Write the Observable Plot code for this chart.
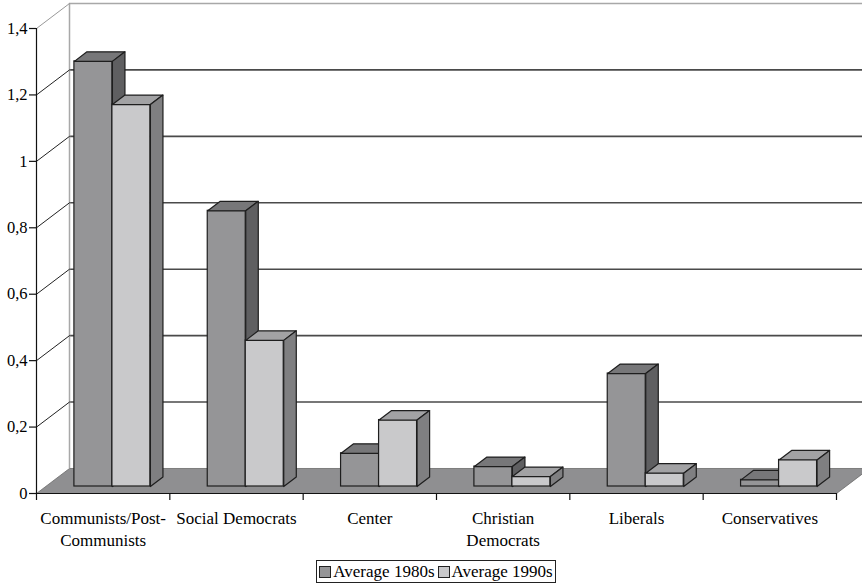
<!DOCTYPE html>
<html>
<head>
<meta charset="utf-8">
<script src="https://cdn.jsdelivr.net/npm/d3@7"></script>
<script src="https://cdn.jsdelivr.net/npm/@observablehq/plot@0.6"></script>
<style>
  body { margin: 0; background: #fff; font-family: "Liberation Serif", serif; }
  #wrap { position: relative; width: 862px; height: 585px; }
  #legend { position: absolute; left: 316px; top: 560px; width: 238px; height: 21px; border: 1px solid #222;
    font-family: "Liberation Serif", serif; font-size: 17px; display: flex; align-items: center; justify-content: center; gap: 3px; white-space: nowrap; }
  .sw { display: inline-block; width: 10px; height: 10px; border: 1px solid #222; margin-right: 2px; vertical-align: -1px; }
</style>
</head>
<body>
<div id="wrap"><div id="chart"></div><div id="legend"></div></div>
<script>
const categories = ["Communists/Post-\nCommunists", "Social Democrats", "Center", "Christian\nDemocrats", "Liberals", "Conservatives"];
const series = ["Average 1980s", "Average 1990s"];
const avg1980s = [1.28, 0.83, 0.10, 0.06, 0.34, 0.02];
const avg1990s = [1.15, 0.44, 0.20, 0.03, 0.04, 0.08];
const yTicks = [0, 0.2, 0.4, 0.6, 0.8, 1, 1.2, 1.4];

// 3D depth geometry (in scale units): back wall offset and bar depth band
const DX = 0.2475, DY = 0.0753, D0 = 0.28, D1 = 0.66, BW = 0.285;
const colors = [
  {front: "#959597", top: "#777779", side: "#5f5f61"},
  {front: "#c9c9cb", top: "#a2a2a4", side: "#7f7f81"}
];
const n = categories.length;
const P = (u, v, d, id) => ({x: u + d * DX, y: v + d * DY, id});
const poly = (id, pts) => [...pts, pts[0]].map(p => P(p[0], p[1], p[2], id));

const values = [avg1980s, avg1990s];
const bars = [];
values.forEach((vals, k) => vals.forEach((v, i) => {
  const u0 = i + 0.5 - BW + k * BW, u1 = u0 + BW;
  bars.push({k, i, v, u0, u1});
}));

function faceMarks(k) {
  const b = bars.filter(d => d.k === k);
  const tops = b.flatMap(d => poly(`t${k}-${d.i}`, [[d.u0, d.v, D0], [d.u1, d.v, D0], [d.u1, d.v, D1], [d.u0, d.v, D1]]));
  const sides = b.flatMap(d => poly(`s${k}-${d.i}`, [[d.u1, 0, D0], [d.u1, d.v, D0], [d.u1, d.v, D1], [d.u1, 0, D1]]));
  return [
    Plot.rect(b, {x1: d => d.u0 + D0 * DX, x2: d => d.u1 + D0 * DX, y1: D0 * DY, y2: d => d.v + D0 * DY,
      fill: colors[k].front, stroke: "#1e1e1e", strokeWidth: 1.2}),
    Plot.line(tops, {x: "x", y: "y", z: "id", fill: colors[k].top, stroke: "#1e1e1e", strokeWidth: 1.2, strokeLinejoin: "round"}),
    Plot.line(sides, {x: "x", y: "y", z: "id", fill: colors[k].side, stroke: "#1e1e1e", strokeWidth: 1.2, strokeLinejoin: "round"})
  ];
}

const floor = poly("floor", [[0, 0, 0], [n, 0, 0], [n, 0, 1], [0, 0, 1]]);
const gridTicks = yTicks.filter(t => t > 0 && t < 1.4);
const diag = yTicks.filter(t => t > 0).flatMap(t => [P(0, t, 0, t), P(0, t, 1, t)]);
const fmt = t => String(t).replace(".", ",");
const catCenters = categories.map((c, i) => ({c, u: i + 0.5}));
const catTicks = d3.range(n + 1);

const chart = Plot.plot({
  width: 862, height: 550,
  marginLeft: 36, marginRight: 26, marginTop: 28, marginBottom: 57,
  x: {type: "linear", domain: [0, n], axis: null},
  y: {type: "linear", domain: [0, 1.4], axis: null},
  style: {fontFamily: "Liberation Serif, serif", fontSize: "17px", color: "#000", background: "#fff"},
  marks: [
    // back wall
    Plot.ruleY(gridTicks, {y: d => d + DY, x1: DX, x2: n + DX + 0.3, stroke: "#4a4a4a", strokeWidth: 1.6}),
    Plot.ruleY([1.4], {y: d => d + DY, x1: DX, x2: n + DX + 0.3, stroke: "#a8a8a8", strokeWidth: 1.5}),
    Plot.ruleX([0], {x: d => d + DX, y1: DY, y2: 1.4 + DY, stroke: "#a8a8a8", strokeWidth: 1.5}),
    // side wall diagonals
    Plot.line(diag, {x: "x", y: "y", z: "id", stroke: d => d.id === 1.4 ? "#999" : "#222", strokeWidth: 1}),
    // floor
    Plot.line(floor, {x: "x", y: "y", z: "id", fill: "#8f8f91", stroke: "#6a6a6a", strokeWidth: 0.8}),
    // bars
    ...faceMarks(0),
    ...faceMarks(1),
    // axes
    Plot.ruleX([0], {y1: 0, y2: 1.4, stroke: "#111", strokeWidth: 1.2}),
    Plot.ruleY([0], {x1: 0, x2: n, stroke: "#111", strokeWidth: 1.2}),
    Plot.ruleY(yTicks, {y: d => d, x1: 0, x2: 0, insetLeft: -7, stroke: "#111", strokeWidth: 1.2}),
    Plot.text(yTicks, {x: 0, y: d => d, text: fmt, textAnchor: "end", dx: -9, fontSize: 16.5, fontFamily: "Liberation Serif, serif"}),
    Plot.ruleX(catTicks, {x: d => d, y1: 0, y2: 0, insetBottom: -7, stroke: "#111", strokeWidth: 1.2}),
    Plot.text(catCenters, {x: "u", y: 0, text: "c", lineAnchor: "top", dy: 15, lineHeight: 1.3, fontSize: 17, fontFamily: "Liberation Serif, serif"})
  ]
});
document.getElementById("chart").appendChild(chart);

const legend = document.getElementById("legend");
series.forEach((s, k) => {
  const span = document.createElement("span");
  span.innerHTML = `<span class="sw" style="background:${colors[k].front}"></span>${s}`;
  legend.appendChild(span);
});
</script>
</body>
</html>
